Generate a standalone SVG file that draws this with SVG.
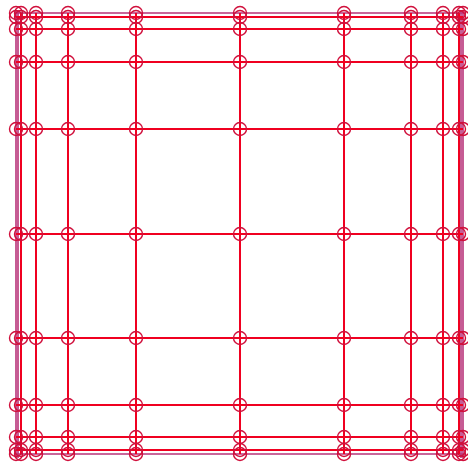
<svg xmlns="http://www.w3.org/2000/svg" width="468" height="470" viewBox="0 0 468 470">
<style>
.r{stroke:#f00020;stroke-width:2;fill:none}
.p{stroke:#b8347a;stroke-width:1.6;fill:none}
.n{stroke:#d0103c;stroke-width:1.4;fill:none}
</style>
<rect width="468" height="470" fill="#fff"/>
<g id="connectors">
<path class="p" d="M16 11V458M463 11V458M14 13H466M14 454H466M18 11V458M461 11V458"/>
<path class="r" d="M21 13V454M36 13V454M68 13V454M136 13V454M240 13V454M344 13V454M411 13V454M443 13V454M459 13V454"/>
<path class="r" d="M16 17H463M16 29H463M16 62H463M16 129H463M16 234H463M16 338H463M16 405H463M16 437H463M16 450H463"/>
</g>
<g id="nodes">
<circle class="n" cx="16" cy="13" r="6.5"/><circle class="n" cx="21" cy="13" r="6.5"/><circle class="n" cx="36" cy="13" r="6.5"/><circle class="n" cx="68" cy="13" r="6.5"/><circle class="n" cx="136" cy="13" r="6.5"/><circle class="n" cx="240" cy="13" r="6.5"/><circle class="n" cx="344" cy="13" r="6.5"/><circle class="n" cx="411" cy="13" r="6.5"/><circle class="n" cx="443" cy="13" r="6.5"/><circle class="n" cx="459" cy="13" r="6.5"/><circle class="n" cx="463" cy="13" r="6.5"/>
<circle class="n" cx="16" cy="17" r="6.5"/><circle class="n" cx="21" cy="17" r="6.5"/><circle class="n" cx="36" cy="17" r="6.5"/><circle class="n" cx="68" cy="17" r="6.5"/><circle class="n" cx="136" cy="17" r="6.5"/><circle class="n" cx="240" cy="17" r="6.5"/><circle class="n" cx="344" cy="17" r="6.5"/><circle class="n" cx="411" cy="17" r="6.5"/><circle class="n" cx="443" cy="17" r="6.5"/><circle class="n" cx="459" cy="17" r="6.5"/><circle class="n" cx="463" cy="17" r="6.5"/>
<circle class="n" cx="16" cy="29" r="6.5"/><circle class="n" cx="21" cy="29" r="6.5"/><circle class="n" cx="36" cy="29" r="6.5"/><circle class="n" cx="68" cy="29" r="6.5"/><circle class="n" cx="136" cy="29" r="6.5"/><circle class="n" cx="240" cy="29" r="6.5"/><circle class="n" cx="344" cy="29" r="6.5"/><circle class="n" cx="411" cy="29" r="6.5"/><circle class="n" cx="443" cy="29" r="6.5"/><circle class="n" cx="459" cy="29" r="6.5"/><circle class="n" cx="463" cy="29" r="6.5"/>
<circle class="n" cx="16" cy="62" r="6.5"/><circle class="n" cx="21" cy="62" r="6.5"/><circle class="n" cx="36" cy="62" r="6.5"/><circle class="n" cx="68" cy="62" r="6.5"/><circle class="n" cx="136" cy="62" r="6.5"/><circle class="n" cx="240" cy="62" r="6.5"/><circle class="n" cx="344" cy="62" r="6.5"/><circle class="n" cx="411" cy="62" r="6.5"/><circle class="n" cx="443" cy="62" r="6.5"/><circle class="n" cx="459" cy="62" r="6.5"/><circle class="n" cx="463" cy="62" r="6.5"/>
<circle class="n" cx="16" cy="129" r="6.5"/><circle class="n" cx="21" cy="129" r="6.5"/><circle class="n" cx="36" cy="129" r="6.5"/><circle class="n" cx="68" cy="129" r="6.5"/><circle class="n" cx="136" cy="129" r="6.5"/><circle class="n" cx="240" cy="129" r="6.5"/><circle class="n" cx="344" cy="129" r="6.5"/><circle class="n" cx="411" cy="129" r="6.5"/><circle class="n" cx="443" cy="129" r="6.5"/><circle class="n" cx="459" cy="129" r="6.5"/><circle class="n" cx="463" cy="129" r="6.5"/>
<circle class="n" cx="16" cy="234" r="6.5"/><circle class="n" cx="21" cy="234" r="6.5"/><circle class="n" cx="36" cy="234" r="6.5"/><circle class="n" cx="68" cy="234" r="6.5"/><circle class="n" cx="136" cy="234" r="6.5"/><circle class="n" cx="240" cy="234" r="6.5"/><circle class="n" cx="344" cy="234" r="6.5"/><circle class="n" cx="411" cy="234" r="6.5"/><circle class="n" cx="443" cy="234" r="6.5"/><circle class="n" cx="459" cy="234" r="6.5"/><circle class="n" cx="463" cy="234" r="6.5"/>
<circle class="n" cx="16" cy="338" r="6.5"/><circle class="n" cx="21" cy="338" r="6.5"/><circle class="n" cx="36" cy="338" r="6.5"/><circle class="n" cx="68" cy="338" r="6.5"/><circle class="n" cx="136" cy="338" r="6.5"/><circle class="n" cx="240" cy="338" r="6.5"/><circle class="n" cx="344" cy="338" r="6.5"/><circle class="n" cx="411" cy="338" r="6.5"/><circle class="n" cx="443" cy="338" r="6.5"/><circle class="n" cx="459" cy="338" r="6.5"/><circle class="n" cx="463" cy="338" r="6.5"/>
<circle class="n" cx="16" cy="405" r="6.5"/><circle class="n" cx="21" cy="405" r="6.5"/><circle class="n" cx="36" cy="405" r="6.5"/><circle class="n" cx="68" cy="405" r="6.5"/><circle class="n" cx="136" cy="405" r="6.5"/><circle class="n" cx="240" cy="405" r="6.5"/><circle class="n" cx="344" cy="405" r="6.5"/><circle class="n" cx="411" cy="405" r="6.5"/><circle class="n" cx="443" cy="405" r="6.5"/><circle class="n" cx="459" cy="405" r="6.5"/><circle class="n" cx="463" cy="405" r="6.5"/>
<circle class="n" cx="16" cy="437" r="6.5"/><circle class="n" cx="21" cy="437" r="6.5"/><circle class="n" cx="36" cy="437" r="6.5"/><circle class="n" cx="68" cy="437" r="6.5"/><circle class="n" cx="136" cy="437" r="6.5"/><circle class="n" cx="240" cy="437" r="6.5"/><circle class="n" cx="344" cy="437" r="6.5"/><circle class="n" cx="411" cy="437" r="6.5"/><circle class="n" cx="443" cy="437" r="6.5"/><circle class="n" cx="459" cy="437" r="6.5"/><circle class="n" cx="463" cy="437" r="6.5"/>
<circle class="n" cx="16" cy="450" r="6.5"/><circle class="n" cx="21" cy="450" r="6.5"/><circle class="n" cx="36" cy="450" r="6.5"/><circle class="n" cx="68" cy="450" r="6.5"/><circle class="n" cx="136" cy="450" r="6.5"/><circle class="n" cx="240" cy="450" r="6.5"/><circle class="n" cx="344" cy="450" r="6.5"/><circle class="n" cx="411" cy="450" r="6.5"/><circle class="n" cx="443" cy="450" r="6.5"/><circle class="n" cx="459" cy="450" r="6.5"/><circle class="n" cx="463" cy="450" r="6.5"/>
<circle class="n" cx="16" cy="454" r="6.5"/><circle class="n" cx="21" cy="454" r="6.5"/><circle class="n" cx="36" cy="454" r="6.5"/><circle class="n" cx="68" cy="454" r="6.5"/><circle class="n" cx="136" cy="454" r="6.5"/><circle class="n" cx="240" cy="454" r="6.5"/><circle class="n" cx="344" cy="454" r="6.5"/><circle class="n" cx="411" cy="454" r="6.5"/><circle class="n" cx="443" cy="454" r="6.5"/><circle class="n" cx="459" cy="454" r="6.5"/><circle class="n" cx="463" cy="454" r="6.5"/>
</g>
</svg>
